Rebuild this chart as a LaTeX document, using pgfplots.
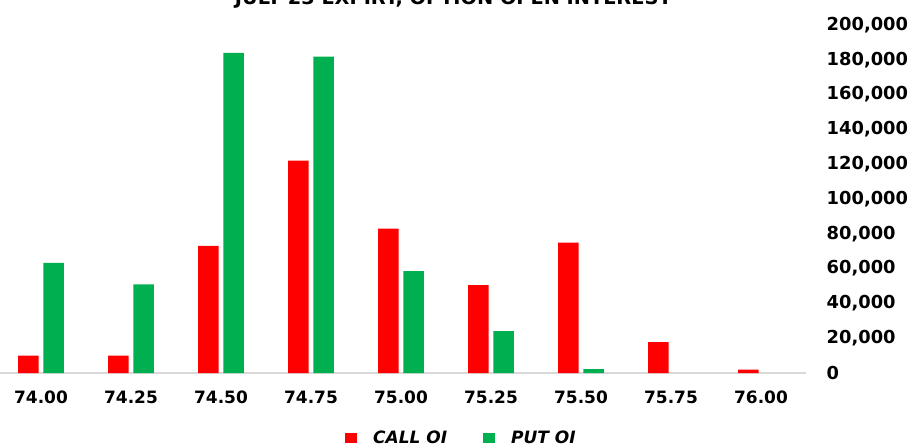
\documentclass[border=0pt]{standalone}
\usepackage{pgfplots}
\pgfplotsset{compat=1.18}
\usepackage{fontspec}
\setmainfont{DejaVu Sans}
\definecolor{callred}{HTML}{FF0000}
\definecolor{putgreen}{HTML}{00B050}
\definecolor{axgray}{HTML}{D9D9D9}
\begin{document}
\begin{tikzpicture}
\begin{axis}[
  at={(0,0)}, anchor=south west,
  scale only axis,
  width=607.5pt, height=261pt,
  ybar, bar width=15.4pt,
  xmin=-0.5, xmax=8.5,
  ymin=0, ymax=200000,
  xtick={0,1,2,3,4,5,6,7,8},
  xticklabels={74.00,74.25,74.50,74.75,75.00,75.25,75.50,75.75,76.00},
  ytick={0,20000,...,200000},
  scaled y ticks=false,
  /pgf/number format/.cd, fixed, 1000 sep={,}, assume math mode=true,
  /pgfplots/.cd,
  axis x line*=bottom,
  axis y line*=right,
  y axis line style={draw=none},
  x axis line style={draw=axgray, line width=0.8pt},
  major tick length=0pt,
  xticklabel style={font=\fontsize{12.75}{15}\selectfont\bfseries, yshift=-10pt},
  yticklabel style={font=\fontsize{13.4}{15}\selectfont\bfseries, anchor=west, xshift=12pt},
  legend style={at={(0.575,-0.187)}, anchor=center, draw=none, fill=none,
    legend columns=2, font=\fontsize{12.75}{15}\selectfont\bfseries\itshape,
    /tikz/every even column/.append style={column sep=25pt}},
  legend image code/.code={\fill[#1] (0pt,-3.75pt) rectangle (9pt,3.75pt); \path (19pt,0pt);},
  clip=false,
]
\addplot[draw=none, fill=callred, bar shift=-9.4pt] coordinates {
 (0,10000) (1,10000) (2,73000) (3,122000) (4,83000) (5,50500) (6,75000) (7,17800) (8,2000)};
\addplot[draw=none, fill=putgreen, bar shift=9.4pt] coordinates {
 (0,63300) (1,51000) (2,184000) (3,181800) (4,58600) (5,24000) (6,2200)};
\legend{CALL OI, PUT OI}
\end{axis}
\node[anchor=base, font=\fontsize{14.5}{17}\selectfont\bfseries] at (343pt,276.5pt) {JULY 23 EXPIRY, OPTION OPEN INTEREST};
\pgfresetboundingbox
\useasboundingbox (3pt,-54.75pt) rectangle (690pt,279.75pt);
\end{tikzpicture}
\end{document}
